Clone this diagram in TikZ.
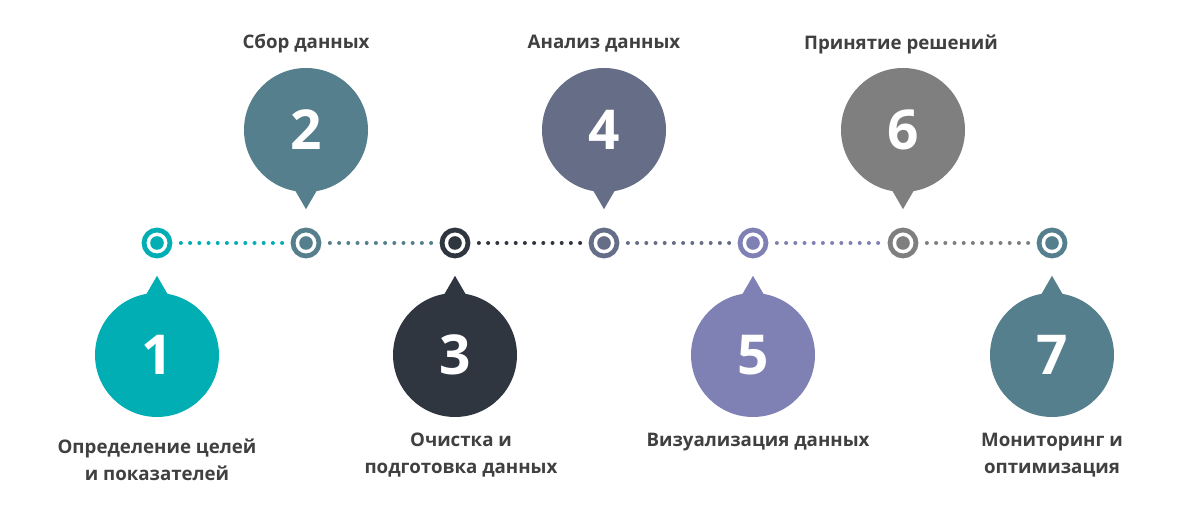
\documentclass[tikz,border=0pt]{standalone}
\usepackage{fontspec}
\setmainfont{Open Sans}
\usetikzlibrary{positioning,calc}
\definecolor{cone}{HTML}{00AEB4}
\definecolor{ctwo}{HTML}{557F8C}
\definecolor{cthree}{HTML}{2F3640}
\definecolor{cfour}{HTML}{666E87}
\definecolor{cfive}{HTML}{7F81B5}
\definecolor{csix}{HTML}{7F7F7F}
\definecolor{ctext}{HTML}{404040}
\tikzset{
  marker/.style={circle, draw=#1, line width=4.8pt, fill=white, minimum size=26pt, inner sep=0pt,
    path picture={\fill[#1] (path picture bounding box.center) circle (6.8pt);}},
  balloon/.style={circle, fill=#1, minimum size=124pt, inner sep=0pt, text=white,
    font=\fontsize{55}{55}\selectfont\bfseries},
  link/.style={draw=#1, line width=4pt, line cap=round, dash pattern=on 0pt off 9.2pt,
    shorten <=8.5pt, shorten >=7.5pt},
  label/.style={text=ctext, align=center, font=\fontsize{18.7}{27}\selectfont\bfseries}
}
\begin{document}
\begin{tikzpicture}[x=1pt,y=1pt]
\useasboundingbox (0,0) rectangle (1197,508);
% markers on the line
\node (m1) at (157,265) [marker=cone] {};
\node (m2) at (306,265) [marker=ctwo] {};
\node (m3) at (455,265) [marker=cthree] {};
\node (m4) at (604,265) [marker=cfour] {};
\node (m5) at (753,265) [marker=cfive] {};
\node (m6) at (903,265) [marker=csix] {};
\node (m7) at (1052,265) [marker=ctwo] {};
\draw[link=cone] (m1) -- (m2);
\draw[link=ctwo] (m2) -- (m3);
\draw[link=cthree] (m3) -- (m4);
\draw[link=cfour] (m4) -- (m5);
\draw[link=cfive] (m5) -- (m6);
\draw[link=csix] (m6) -- (m7);
% balloons
\node (b1) at (157,153) [balloon=cone] {1};
\node (b2) at (306,378) [balloon=ctwo] {2};
\node (b3) at (455,153) [balloon=cthree] {3};
\node (b4) at (604,378) [balloon=cfour] {4};
\node (b5) at (753,153) [balloon=cfive] {5};
\node (b6) at (903,378) [balloon=csix] {6};
\node (b7) at (1052,153) [balloon=ctwo] {7};
\fill[cone] ($(b1.north)+(-11,-2)$) -- ($(b1.north)+(0,17)$) -- ($(b1.north)+(11,-2)$) -- cycle;
\fill[ctwo] ($(b2.south)+(-11,2)$) -- ($(b2.south)+(0,-17)$) -- ($(b2.south)+(11,2)$) -- cycle;
\fill[cthree] ($(b3.north)+(-11,-2)$) -- ($(b3.north)+(0,17)$) -- ($(b3.north)+(11,-2)$) -- cycle;
\fill[cfour] ($(b4.south)+(-11,2)$) -- ($(b4.south)+(0,-17)$) -- ($(b4.south)+(11,2)$) -- cycle;
\fill[cfive] ($(b5.north)+(-11,-2)$) -- ($(b5.north)+(0,17)$) -- ($(b5.north)+(11,-2)$) -- cycle;
\fill[csix] ($(b6.south)+(-11,2)$) -- ($(b6.south)+(0,-17)$) -- ($(b6.south)+(11,2)$) -- cycle;
\fill[ctwo] ($(b7.north)+(-11,-2)$) -- ($(b7.north)+(0,17)$) -- ($(b7.north)+(11,-2)$) -- cycle;
% labels
\node (t1) at (157,48.5) [label] {Определение целей\\и показателей};
\node (t2) at (306,464) [label] {Сбор данных};
\node (t3) at (461,52.5) [label] {Очистка и\\подготовка данных};
\node (t4) at (604,464) [label] {Анализ данных};
\node (t5) at (758,65.5) [label] {Визуализация данных};
\node (t6) at (901,464) [label] {Принятие решений};
\node (t7) at (1052,52.5) [label] {Мониторинг и\\оптимизация};
\end{tikzpicture}
\end{document}
